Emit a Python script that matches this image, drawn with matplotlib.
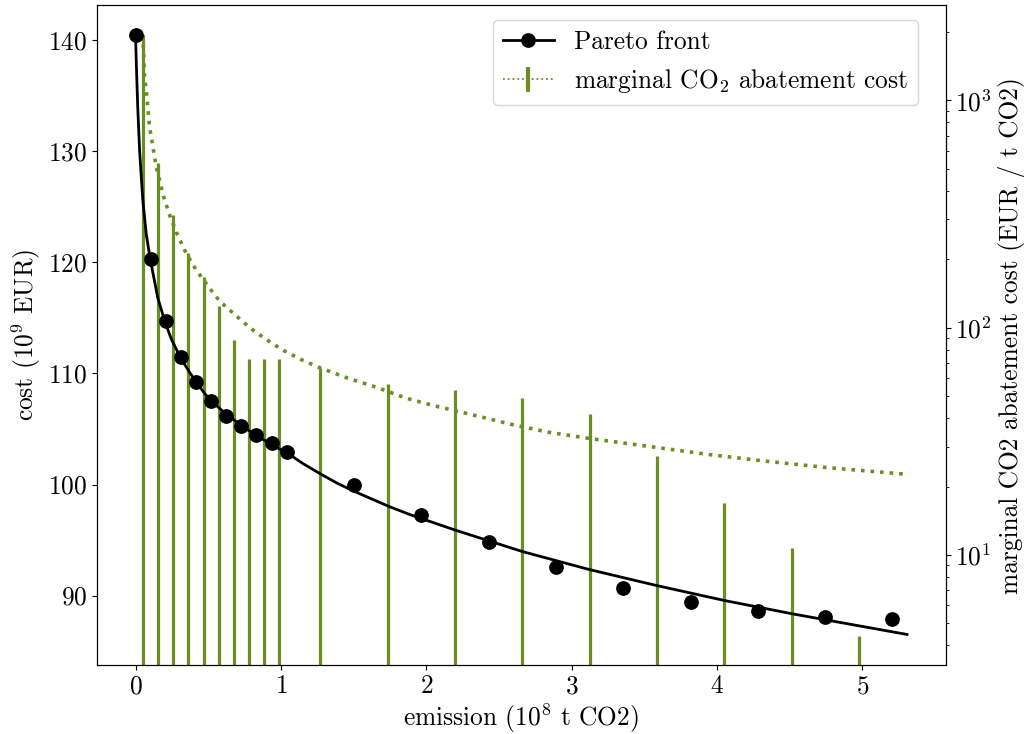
import numpy as np
import matplotlib
matplotlib.use("Agg")
import matplotlib.pyplot as plt
from matplotlib.lines import Line2D

plt.rcParams['font.family'] = 'serif'
plt.rcParams['font.serif'] = ['cmr10']
plt.rcParams['mathtext.fontset'] = 'cm'
plt.rcParams['axes.formatter.use_mathtext'] = True
plt.rcParams['font.size'] = 18.3

# pareto points (emission in 1e8 t CO2, cost in 1e9 EUR)
emission = [0, 0.104, 0.208, 0.312, 0.416, 0.52, 0.624, 0.728, 0.832, 0.936, 1.04,
            1.503, 1.966, 2.429, 2.892, 3.355, 3.818, 4.281, 4.744, 5.207]
cost = [140.45, 120.3, 114.75, 111.45, 109.25, 107.5, 106.2, 105.25, 104.45, 103.7, 102.95,
        100.0, 97.3, 94.85, 92.6, 90.65, 89.4, 88.6, 88.1, 87.9]

# fitted front
fit_x = [0, 0.005, 0.015, 0.028, 0.05, 0.074, 0.101, 0.153, 0.206, 0.246, 0.31, 0.372, 0.413,
         0.475, 0.523, 0.601, 0.727, 0.834, 0.934, 1.037, 1.15, 1.266, 1.39, 1.519, 1.748,
         1.886, 2.198, 2.665, 3.12, 3.586, 4.054, 4.521, 4.988, 5.307]
fit_y = [140.45, 138.0, 134.0, 130.0, 125.6, 122.5, 120.3, 116.8, 114.5, 113.1, 111.4, 110.1,
         109.3, 108.2, 107.5, 106.6, 105.3, 104.4, 103.6, 102.9, 101.9, 101.0, 100.1, 99.3,
         98.0, 97.3, 95.9, 93.95, 92.35, 90.9, 89.55, 88.35, 87.25, 86.5]

# marginal abatement cost (EUR / t CO2)
mac_bars = [1941, 528, 313, 212, 167.5, 124, 88.3, 72.8, 72.8, 72.8,
            66.3, 56.5, 53.2, 49.1, 41.6, 27.3, 16.9, 10.7, 4.4]
mac_x = [0.05, 0.062, 0.078, 0.096, 0.119, 0.142, 0.193, 0.234, 0.284, 0.349, 0.418,
         0.539, 0.583, 0.686, 0.791, 0.904, 1.021, 1.145, 1.266, 1.461, 1.657, 1.863,
         2.063, 2.308, 2.604, 2.849, 3.145, 3.537, 3.955, 4.373, 4.767, 5.283]
mac_y = [1941, 1271, 1038, 766, 626, 511, 377, 313, 260, 212, 179,
         140.7, 130, 113.7, 99.4, 88.3, 79.2, 72.1, 66.7, 59.9, 54.7, 48.9,
         45.2, 41.5, 37.3, 34.6, 32.4, 30.0, 27.6, 25.7, 24.2, 22.7]

green = '#6b8e23'

fig = plt.figure(figsize=(10.3, 7.34), dpi=100)
ax1 = fig.add_axes([0.0942, 0.094, 0.8238, 0.8988])
ax2 = ax1.twinx()

e = np.array(emission)
mid = (e[1:] + e[:-1]) / 2
ax2.set_yscale('log')
ax2.set_ylim(3.28, 2620)
ax2.vlines(mid, 3.28, mac_bars, color=green, lw=2.3)
ax2.plot(mac_x, mac_y, ':', color=green, lw=2.6)
ax2.set_ylabel('marginal CO2 abatement cost (EUR / t CO2)')

ax1.plot(fit_x, fit_y, '-', color='black', lw=2)
ax1.plot(emission, cost, 'o', color='black', ms=9.6)
ax1.set_xlim(-0.265, 5.572)
ax1.set_ylim(83.75, 143.15)
ax1.set_xlabel('emission ($10^8$ t CO2)', labelpad=2)
ax1.set_ylabel('cost ($10^9$ EUR)')
ax1.set_zorder(ax2.get_zorder() + 1)
ax1.patch.set_visible(False)

handles = [Line2D([], [], color='black', marker='o', ms=9.6, lw=2),
           Line2D([], [], color=green, ls=':', lw=1.3, marker='|', ms=18, mew=3)]
ax1.legend(handles, ['Pareto front', 'marginal CO$_2$ abatement cost'], loc='upper right',
           bbox_to_anchor=(0.983, 0.997))

fig.savefig('out.png', dpi=100)
